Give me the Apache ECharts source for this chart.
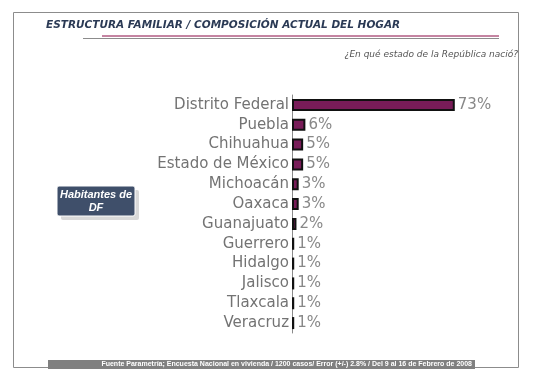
<!DOCTYPE html>
<html>
<head>
<meta charset="utf-8">
<script src="https://cdn.jsdelivr.net/npm/echarts@6/dist/echarts.min.js"></script>
<style>
html,body{margin:0;padding:0;background:#fff;}
#chart{width:535px;height:381px;}
</style>
</head>
<body>
<div id="chart"></div>
<script>
const categories = ['Distrito Federal','Puebla','Chihuahua','Estado de México','Michoacán','Oaxaca','Guanajuato','Guerrero','Hidalgo','Jalisco','Tlaxcala','Veracruz'];
const values = [73, 6, 5, 5, 3, 3, 2, 1, 1, 1, 1, 1];
const titleText = 'ESTRUCTURA FAMILIAR / COMPOSICIÓN ACTUAL DEL HOGAR';
const questionText = '¿En qué estado de la República nació?';
const boxText = 'Habitantes de\nDF';
const sourceText = 'Fuente Parametría; Encuesta Nacional en vivienda / 1200 casos/ Error (+/-) 2.8% / Del 9 al 16 de Febrero de 2008';

const chart = echarts.init(document.getElementById('chart'), null, {renderer: 'canvas'});
chart.setOption({
  backgroundColor: '#ffffff',
  animation: false,
  grid: {left: 292, top: 95, width: 223, height: 238},
  xAxis: {type: 'value', min: 0, max: 100, show: false},
  yAxis: {
    type: 'category', data: categories, inverse: true,
    axisLine: {show: true, lineStyle: {color: '#8a8a8a', width: 1}},
    axisTick: {show: false},
    axisLabel: {color: '#737373', fontSize: 15, fontFamily: 'DejaVu Sans', margin: 3}
  },
  series: [{
    type: 'bar', data: values, barWidth: 12,
    itemStyle: {color: '#781c58', borderColor: '#111111', borderWidth: 2},
    label: {show: true, position: 'right', distance: 3, formatter: '{c}%', color: '#888888', fontSize: 15, fontFamily: 'DejaVu Sans'}
  }],
  graphic: [
    {type: 'rect', shape: {x: 13.5, y: 12.5, width: 505, height: 355}, style: {fill: 'none', stroke: '#8c8c8c', lineWidth: 1}, z: 0},
    {type: 'text', x: 46, y: 20, style: {text: titleText, fill: '#2b3a55', font: 'italic bold 10.5px "DejaVu Sans"'}},
    {type: 'line', shape: {x1: 102, y1: 36, x2: 499, y2: 36}, style: {stroke: '#8a0a45', lineWidth: 1}},
    {type: 'line', shape: {x1: 83, y1: 38.5, x2: 499, y2: 38.5}, style: {stroke: '#8c8c8c', lineWidth: 1}},
    {type: 'text', x: 518, y: 50, style: {text: questionText, fill: '#555555', font: 'italic 9px "DejaVu Sans"', align: 'right'}},
    {type: 'rect', shape: {x: 61, y: 190, width: 78, height: 30, r: 2}, style: {fill: '#d9d9d9'}},
    {type: 'rect', shape: {x: 57, y: 186, width: 78, height: 30, r: 2}, style: {fill: '#3f4f6a', stroke: '#ffffff', lineWidth: 1}},
    {type: 'text', x: 96, y: 201, style: {text: boxText, fill: '#ffffff', font: 'italic bold 11px "Liberation Sans"', align: 'center', verticalAlign: 'middle', lineHeight: 13}},
    {type: 'rect', shape: {x: 48, y: 360, width: 427, height: 9}, style: {fill: '#808080'}},
    {type: 'text', x: 472, y: 361, style: {text: sourceText, fill: '#ffffff', font: 'bold 7px "Liberation Sans"', align: 'right'}}
  ]
});
</script>
</body>
</html>
